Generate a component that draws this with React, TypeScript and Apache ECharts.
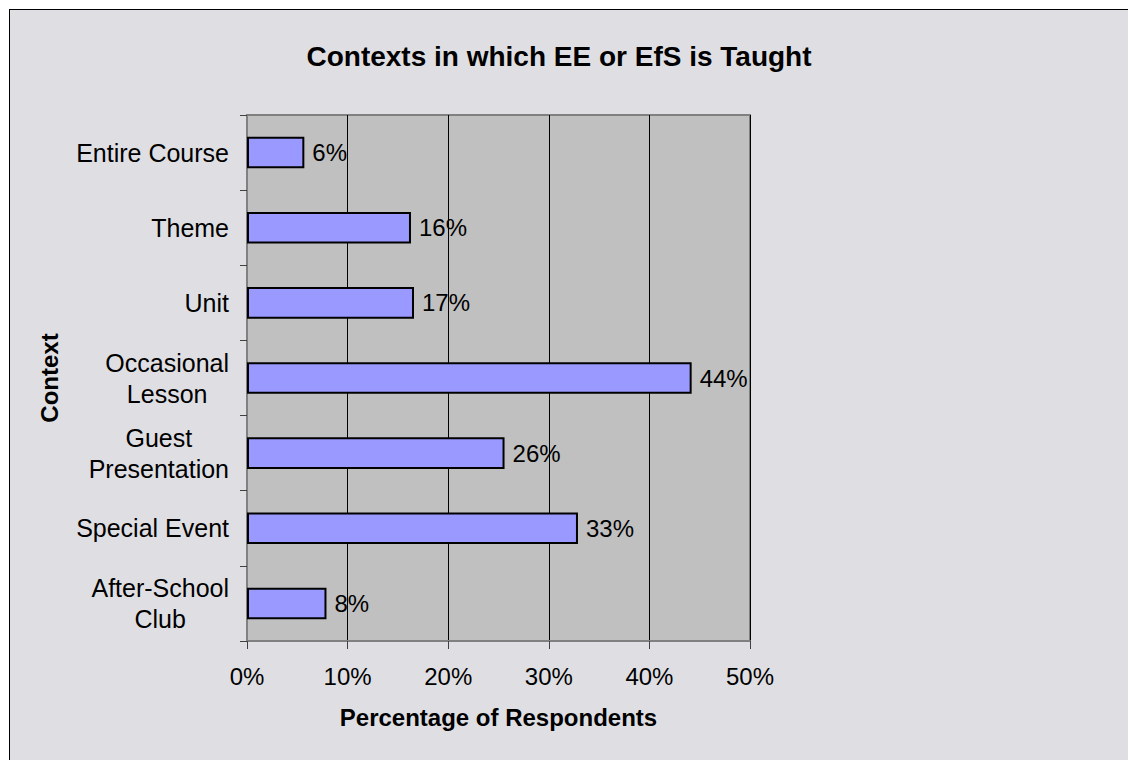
import React, { useEffect, useRef } from "react";
import * as echarts from "echarts";

const categories = [
  "Entire Course",
  "Theme",
  "Unit",
  "Occasional\nLesson",
  "Guest\nPresentation",
  "Special Event",
  "After-School\nClub",
];
const values = [5.7, 16.3, 16.6, 44.2, 25.6, 32.9, 7.9];
const xTicks = [0, 10, 20, 30, 40, 50];

const FONT = '"Liberation Sans", Arial, sans-serif';

export default function App() {
  const ref = useRef<HTMLDivElement>(null);
  useEffect(() => {
    if (!ref.current) return;
    const chart = echarts.init(ref.current, undefined, { renderer: "svg" });
    chart.setOption({
      animation: false,
      backgroundColor: "#dfdfe3",
      textStyle: { fontFamily: FONT },
      title: {
        text: "Contexts in which EE or EfS is Taught",
        left: 544,
        top: 27,
        textAlign: "center",
        textStyle: { fontSize: 28, fontWeight: "bold", color: "#000", fontFamily: FONT },
      },
      grid: {
        left: 237,
        top: 105,
        width: 503,
        height: 526,
        show: true,
        backgroundColor: "#c0c0c0",
        borderColor: "#808080",
        borderWidth: 2,
      },
      xAxis: {
        type: "value",
        min: xTicks[0],
        max: xTicks[xTicks.length - 1],
        interval: 10,
        name: "Percentage of Respondents",
        nameLocation: "middle",
        nameGap: 64,
        nameTextStyle: { fontSize: 24, fontWeight: "bold", color: "#000", fontFamily: FONT },
        axisLine: { show: true, lineStyle: { color: "#808080", width: 2 } },
        axisTick: { show: true, length: 8, lineStyle: { color: "#404040" } },
        axisLabel: { fontSize: 24, color: "#000", margin: 23, formatter: "{value}%", fontFamily: FONT },
        splitLine: { show: true, lineStyle: { color: "#000", width: 1 } },
      },
      yAxis: {
        type: "category",
        data: categories,
        inverse: true,
        name: "Context",
        nameLocation: "middle",
        nameGap: 186,
        nameTextStyle: { fontSize: 24, fontWeight: "bold", color: "#000", fontFamily: FONT },
        axisLine: { show: true, lineStyle: { color: "#808080", width: 2 } },
        axisTick: { show: true, length: 7, lineStyle: { color: "#404040" } },
        axisLabel: {
          margin: 18,
          color: "#000",
          fontSize: 25,
          lineHeight: 31,
          formatter: (v: string) =>
            v
              .split("\n")
              .map((l) => `{c|${l}}`)
              .join("\n"),
          rich: {
            c: { align: "center", fontSize: 25, lineHeight: 31, color: "#000", fontFamily: FONT },
          },
        },
        splitLine: { show: false },
      },
      series: [
        {
          type: "bar",
          data: values,
          barWidth: "42%",
          itemStyle: { color: "#9999ff", borderColor: "#000", borderWidth: 2 },
          label: {
            show: true,
            position: "right",
            distance: 8,
            fontSize: 24,
            color: "#000",
            fontFamily: FONT,
            formatter: (p: any) => Math.round(p.value) + "%",
          },
        },
      ],
    });
    return () => chart.dispose();
  }, []);

  return (
    <div
      style={{
        position: "fixed",
        left: 0,
        top: 0,
        right: 0,
        bottom: 0,
        background: "#fff",
        overflow: "hidden",
      }}
    >
      <div
        style={{
          position: "absolute",
          left: 9,
          top: 9,
          borderLeft: "1px solid #000",
          borderTop: "1px solid #000",
          width: 1200,
          height: 800,
          background: "#dfdfe3",
        }}
      >
        <div ref={ref} style={{ width: 1200, height: 800 }} />
      </div>
    </div>
  );
}
